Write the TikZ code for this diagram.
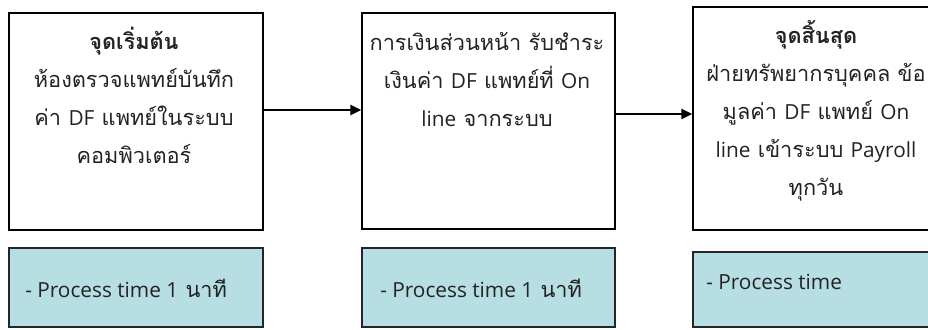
\documentclass[tikz,border=0pt]{standalone}
\usepackage{fontspec}
\setmainfont{Loma}[Script=Thai]
\newfontfamily\latinfont{Open Sans}
\newcommand\lt[1]{{\latinfont\fontsize{15.6pt}{28.5pt}\selectfont #1}}
\usetikzlibrary{arrows.meta}
\definecolor{tealfill}{RGB}{183,222,226}
\definecolor{txt}{RGB}{35,35,35}
\tikzset{
  stepbox/.style={draw=black, line width=1.3pt, fill=white, inner sep=0pt},
  timebox/.style={draw=black!85, line width=1.3pt, fill=tealfill, inner sep=0pt},
  boxtext/.style={align=center, text=txt, inner sep=0pt, font=\fontsize{16.3pt}{28.5pt}\selectfont},
  timetext/.style={anchor=base west, text=txt, inner sep=0pt, font=\fontsize{16.3pt}{20pt}\selectfont},
  arr/.style={line width=1.4pt, -{Triangle[length=8pt,width=7.5pt]}}
}
\begin{document}
\begin{tikzpicture}[x=0.75pt, y=-0.75pt]
\clip (0,0) rectangle (928,329);
\fill[white] (0,0) rectangle (928,329);
% main boxes
\node[stepbox, minimum width=190.5pt, minimum height=162.75pt] (b1) at (136,121.5) {};
\node[stepbox, minimum width=189.75pt, minimum height=162pt] (b2) at (488.5,121) {};
\node[stepbox, minimum width=190.5pt, minimum height=167.25pt] (b3) at (820,118.5) {};
% time boxes
\node[timebox, minimum width=190.5pt, minimum height=59.25pt] (t1) at (136,287.5) {};
\node[timebox, minimum width=189.75pt, minimum height=59.25pt] (t2) at (488.5,287.5) {};
\node[timebox, minimum width=190.5pt, minimum height=56.25pt] (t3) at (820,289.5) {};
% box texts (anchor = baseline of last line)
\node[boxtext, anchor=base] (x1) at (134,163) {\textbf{จุดเริ่มต้น}\\ห้องตรวจแพทย์บันทึก\\ค่า \lt{DF} แพทย์ในระบบ\\คอมพิวเตอร์};
\node[boxtext, anchor=base] (x2) at (487,126) {การเงินส่วนหน้า รับชำระ\\เงินค่า \lt{DF} แพทย์ที่ \lt{On}\\\lt{line} จากระบบ};
\node[boxtext, anchor=base] (x3) at (816,195) {\textbf{จุดสิ้นสุด}\\ฝ่ายทรัพยากรบุคคล ข้อ\\มูลค่า \lt{DF} แพทย์ \lt{On}\\\lt{line} เข้าระบบ \lt{Payroll}\\ทุกวัน};
% time texts
\node[timetext] (y1) at (25,297) {\lt{- Process time 1} นาที};
\node[timetext] (y2) at (380,297) {\lt{- Process time 1} นาที};
\node[timetext] (y3) at (706,289) {\lt{- Process time}};
% connectors
\coordinate (c1) at (0,110);
\coordinate (c2) at (0,114);
\draw[arr] (b1.east |- c1) -- (b2.west |- c1);
\draw[arr] (b2.east |- c2) -- (b3.west |- c2);
\end{tikzpicture}
\end{document}
